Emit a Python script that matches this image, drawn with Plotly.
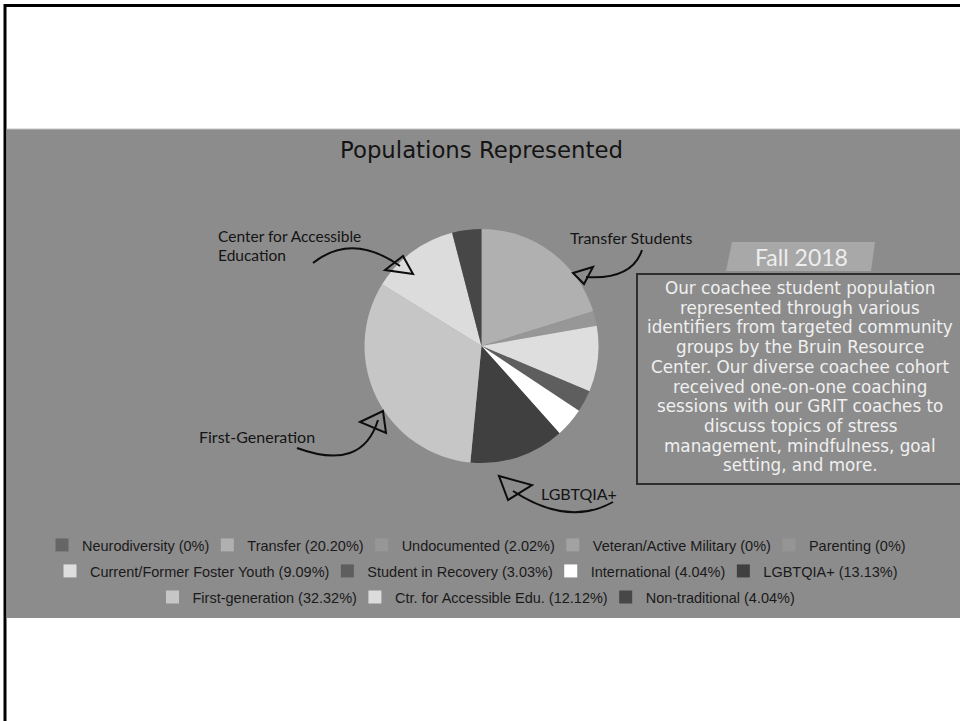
import plotly.graph_objects as go

# ---------------- data ----------------
categories = [
    "Neurodiversity", "Transfer", "Undocumented", "Veteran/Active Military", "Parenting",
    "Current/Former Foster Youth", "Student in Recovery", "International", "LGBTQIA+",
    "First-generation", "Ctr. for Accessible Edu.", "Non-traditional",
]
percents = [0, 20.20, 2.02, 0, 0, 9.09, 3.03, 4.04, 13.13, 32.32, 12.12, 4.04]
colors = [
    "#666666", "#b0b0b0", "#979797", "#a2a2a2", "#959595",
    "#dedede", "#5e5e5e", "#ffffff", "#404040",
    "#c6c6c6", "#dcdcdc", "#474747",
]
legend_rows = [1, 1, 1, 1, 1, 2, 2, 2, 2, 3, 3, 3]

title_text = "Populations Represented"
box_header = "Fall 2018"
box_lines = [
    "Our coachee student population",
    "represented through various",
    "identifiers from targeted community",
    "groups by the Bruin Resource",
    "Center. Our diverse coachee cohort",
    "received one-on-one coaching",
    "sessions with our GRIT coaches to",
    "discuss topics of stress",
    "management, mindfulness, goal",
    "setting, and more.",
]

W, H = 960, 721
BAND = "#8c8c8c"


def pct_label(v):
    return "0%" if v == 0 else f"{v:.2f}%"


fig = go.Figure()

# pie
cx, cy, r = 481.5, 346, 117
fig.add_trace(go.Pie(
    labels=categories, values=percents, sort=False, direction="clockwise", rotation=0,
    marker=dict(colors=colors, line=dict(width=0)), textinfo="none", showlegend=False,
    domain=dict(x=[(cx - r) / W, (cx + r) / W], y=[1 - (cy + r) / H, 1 - (cy - r) / H]),
))

# legend entries (three centred rows)
legend_names = {1: "legend", 2: "legend2", 3: "legend3"}
for cat, v, c, row in zip(categories, percents, colors, legend_rows):
    fig.add_trace(go.Scatter(
        x=[None], y=[None], mode="markers", name=f"{cat} ({pct_label(v)})",
        marker=dict(symbol="square", size=13, color=c, line=dict(width=0)),
        legend=legend_names[row], showlegend=True, hoverinfo="skip",
    ))

leg_common = dict(orientation="h", x=0.5, xanchor="center", yanchor="middle",
                  bgcolor="rgba(0,0,0,0)", traceorder="normal", indentation=-7,
                  font=dict(family="Liberation Sans, Arial", size=14.5, color="#1a1a1a"))

shapes = []
# grey band
shapes.append(dict(type="rect", x0=7, x1=W, y0=129, y1=618, fillcolor=BAND,
                   line=dict(width=0), layer="below", xref="x", yref="y"))
shapes.append(dict(type="line", x0=7, x1=W, y0=129, y1=129,
                   line=dict(color="#c4c4c4", width=1), layer="below", xref="x", yref="y"))
# frame
shapes.append(dict(type="line", x0=5, x1=5, y0=4, y1=H, line=dict(color="#000", width=3),
                   layer="above", xref="x", yref="y"))
shapes.append(dict(type="line", x0=4, x1=W, y0=5.5, y1=5.5, line=dict(color="#000", width=3),
                   layer="above", xref="x", yref="y"))
# text box
shapes.append(dict(type="rect", x0=637, x1=W + 5, y0=274, y1=484, fillcolor=BAND,
                   line=dict(color="#2e2e2e", width=2), layer="below", xref="x", yref="y"))
shapes.append(dict(type="path", path="M 732 242 L 875 242 L 871 271 L 726 271 Z",
                   fillcolor="#a8a8a8", line=dict(width=0), layer="below", xref="x", yref="y"))


def curve(p0, c, p1):
    return f"M {p0[0]} {p0[1]} Q {c[0]} {c[1]} {p1[0]} {p1[1]}"


def tri(a, b, c):
    return f"M {a[0]} {a[1]} L {b[0]} {b[1]} L {c[0]} {c[1]} Z"


arrow_paths = [
    # Transfer Students
    curve((642, 250), (632, 280), (586, 277)),
    tri((573, 273), (593, 267), (584, 284)),
    # Center for Accessible Education
    curve((313, 263), (352, 232), (400, 266)),
    tri((385, 270), (403, 256), (413, 274)),
    # First-Generation
    curve((297, 448), (362, 472), (378, 420)),
    tri((360, 422), (383, 411), (386, 433)),
    # LGBTQIA+
    curve((613, 502), (568, 527), (513, 491)),
    tri((499, 476), (532, 485), (508, 500)),
]
for p in arrow_paths:
    shapes.append(dict(type="path", path=p, line=dict(color="#0d0d0d", width=2),
                       fillcolor="rgba(0,0,0,0)", layer="above", xref="x", yref="y"))

annotations = []


def add_text(x, y, text, size, family, color, xanchor="center"):
    annotations.append(dict(x=x, y=y, xref="x", yref="y", text=text, showarrow=False,
                            xanchor=xanchor, yanchor="middle",
                            font=dict(size=size, family=family, color=color)))


DEJAVU = "DejaVu Sans, Liberation Sans, Arial"
add_text(481, 150, title_text, 22.8, DEJAVU, "#141414")
LATO = "Lato, Noto Sans"
add_text(568, 237, "Transfer Students", 16, LATO, "#141414", "left")
add_text(216, 236, "Center for Accessible", 15.5, LATO, "#141414", "left")
add_text(216, 254.5, "Education", 15.5, LATO, "#141414", "left")
add_text(197, 436, "First-Generation", 16, LATO, "#141414", "left")
add_text(539, 493, "LGBTQIA+", 16, LATO, "#141414", "left")
add_text(801, 257, box_header, 23, LATO, "#eeeeee")
for i, line in enumerate(box_lines):
    add_text(800, 288 + i * 19.7, line, 16.8, DEJAVU, "#f0f0f0")

fig.update_layout(
    width=W, height=H, autosize=False,
    margin=dict(l=0, r=0, t=0, b=0, pad=0),
    paper_bgcolor="#ffffff", plot_bgcolor="rgba(0,0,0,0)",
    xaxis=dict(range=[0, W], visible=False, fixedrange=True),
    yaxis=dict(range=[H, 0], visible=False, fixedrange=True),
    shapes=shapes, annotations=annotations,
    legend=dict(y=1 - 545 / H, **leg_common),
    legend2=dict(y=1 - 571 / H, **leg_common),
    legend3=dict(y=1 - 597 / H, **leg_common),
    showlegend=True,
)

fig.write_html("out.html")
